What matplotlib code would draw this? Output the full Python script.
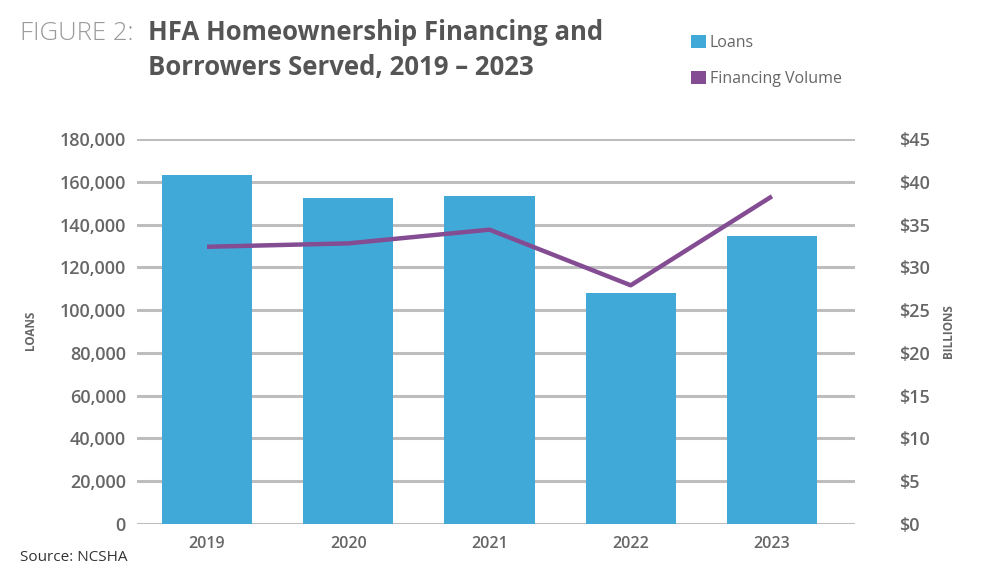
import matplotlib
matplotlib.use("Agg")
import matplotlib.pyplot as plt
from matplotlib.patches import Patch
from matplotlib.ticker import FuncFormatter, MultipleLocator

years = ["2019", "2020", "2021", "2022", "2023"]
loans = [163200, 152400, 153300, 108000, 134600]
financing = [32.4, 32.8, 34.4, 27.9, 38.3]

BAR = "#41A9D7"
LINE = "#844C92"
GRID = "#BDBDBF"
TXT = "#666666"
FONT = "Open Sans"

plt.rcParams["font.family"] = [FONT, "DejaVu Sans"]

fig = plt.figure(figsize=(9.87, 5.75), dpi=100)
ax = fig.add_axes([0.1388, 0.0887, 0.7275, 0.6696])
x = list(range(len(years)))
ax.bar(x, loans, width=0.64, color=BAR, zorder=3)
ax.set_ylim(0, 180000)
ax.set_xlim(-0.496, 4.588)
ax.yaxis.set_major_locator(MultipleLocator(20000))
ax.yaxis.set_major_formatter(FuncFormatter(lambda v, p: f"{int(v):,}"))
ax.grid(axis="y", color=GRID, linewidth=2.2, zorder=0)
ax.set_axisbelow(True)
for s in ax.spines.values():
    s.set_visible(False)
ax.tick_params(axis="y", length=0, pad=8, labelsize=13, labelcolor=TXT)
ax.tick_params(axis="x", length=0, pad=9, labelsize=11.5, labelcolor=TXT)
ax.set_xticks(x)
ax.set_xticklabels(years, fontweight="semibold")
for t in ax.get_yticklabels():
    t.set_fontweight("semibold")

ax2 = ax.twinx()
ax2.plot(x, financing, color=LINE, linewidth=3.2, zorder=4, solid_capstyle="butt")
ax2.set_ylim(0, 45)
ax2.yaxis.set_major_locator(MultipleLocator(5))
ax2.yaxis.set_major_formatter(FuncFormatter(lambda v, p: f"${int(v)}"))
for s in ax2.spines.values():
    s.set_visible(False)
ax2.tick_params(axis="y", length=0, pad=32, labelsize=13, labelcolor=TXT)
for t in ax2.get_yticklabels():
    t.set_fontweight("semibold")

fig.text(0.031, 0.425, "LOANS", rotation=90, ha="center", va="center",
         fontsize=8.5, color=TXT, fontweight="bold")
fig.text(0.961, 0.425, "BILLIONS", rotation=90, ha="center", va="center",
         fontsize=8.5, color=TXT, fontweight="bold")

fig.text(0.020, 0.930, "FIGURE 2:", fontsize=18.5, color="#9A9A9A",
         fontweight="light", va="baseline")
fig.text(0.150, 0.930, "HFA Homeownership Financing and", fontsize=18.5,
         color="#555555", fontweight="bold", va="baseline")
fig.text(0.150, 0.870, "Borrowers Served, 2019 \u2013 2023", fontsize=18.5,
         color="#555555", fontweight="bold", va="baseline")

handles = [Patch(facecolor=BAR, edgecolor="none", label="Loans"),
           Patch(facecolor=LINE, edgecolor="none", label="Financing Volume")]
fig.legend(handles=handles, loc="upper left", bbox_to_anchor=(0.686, 0.965),
           frameon=False, fontsize=11.5, handlelength=0.9, handleheight=0.9,
           handletextpad=0.25, labelspacing=1.25, labelcolor=TXT)

fig.text(0.020, 0.025, "Source: NCSHA", fontsize=11, color="#333333")

fig.savefig("out.png", dpi=100)
